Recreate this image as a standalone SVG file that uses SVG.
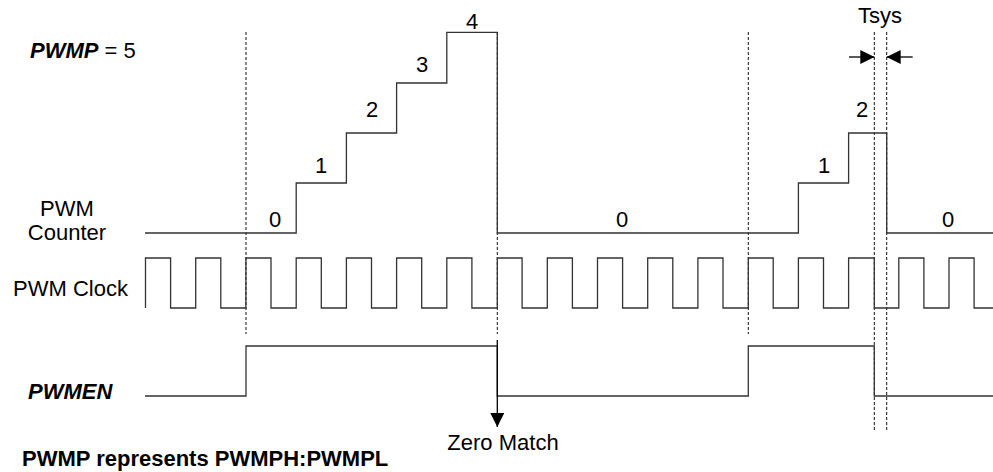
<svg xmlns="http://www.w3.org/2000/svg" width="993" height="472" viewBox="0 0 993 472">
<style>
text{font-family:"Liberation Sans",Arial,sans-serif;font-size:22px;fill:#000}
.bi{font-weight:bold;font-style:italic}
.b{font-weight:bold}
.num{text-anchor:middle}
.wave{fill:none;stroke:#333;stroke-width:1.3}
.dash{fill:none;stroke:#111;stroke-width:1;stroke-dasharray:3,2}
.arr{fill:none;stroke:#000;stroke-width:1.3}
</style>
<defs>
<marker id="ah" viewBox="0 0 14 14" refX="14" refY="7" markerWidth="14" markerHeight="14" markerUnits="userSpaceOnUse" orient="auto">
<path d="M0,0 L14,7 L0,14 Z" fill="#000"/>
</marker>
</defs>
<rect width="993" height="472" fill="#fff"/>
<g id="guides">
<line class="dash" x1="246" y1="32" x2="246" y2="334"/>
<line class="dash" x1="497.3" y1="32" x2="497.3" y2="334"/>
<line class="dash" x1="748.3" y1="32" x2="748.3" y2="334"/>
<line class="dash" x1="874.3" y1="32" x2="874.3" y2="432"/>
<line class="dash" x1="886.7" y1="32" x2="886.7" y2="432"/>
</g>
<g id="pwmp-label">
<text x="30" y="58"><tspan class="bi">PWMP</tspan> = 5</text>
</g>
<g id="counter">
<text x="67" y="216" text-anchor="middle">PWM</text>
<text x="67" y="240" text-anchor="middle">Counter</text>
<path class="wave" d="M145,233 H296.2 V183 H346.4 V133 H396.6 V83 H446.8 V32.3 H497.3 V233 H798.4 V183 H848.6 V133 H886.7 V233 H993"/>
<text class="num" x="275" y="227">0</text>
<text class="num" x="321" y="173">1</text>
<text class="num" x="372" y="117">2</text>
<text class="num" x="422" y="72">3</text>
<text class="num" x="472" y="29">4</text>
<text class="num" x="622" y="227">0</text>
<text class="num" x="824" y="173">1</text>
<text class="num" x="862" y="117">2</text>
<text class="num" x="948" y="227">0</text>
</g>
<g id="clock">
<text x="13" y="296">PWM Clock</text>
<path class="wave" d="M145.5,308 V258 H170.6 V308 H195.7 V258 H220.8 V308 H245.9 V258 H271 V308 H296.2 V258 H321.3 V308 H346.4 V258 H371.5 V308 H396.6 V258 H421.7 V308 H446.8 V258 H471.9 V308 H497.3 V258 H522.1 V308 H547.3 V258 H572.4 V308 H597.5 V258 H622.6 V308 H647.7 V258 H672.8 V308 H697.9 V258 H723 V308 H748.3 V258 H773.2 V308 H798.4 V258 H823.5 V308 H848.6 V258 H874.3 V308 H898.8 V258 H923.9 V308 H949 V258 H974.1 V308 H993"/>
</g>
<g id="pwmen">
<text class="bi" x="28" y="399">PWMEN</text>
<path class="wave" d="M145,396 H246 V346 H497.3 V396 H748.3 V346 H874.3 V396 H993"/>
</g>
<g id="connectors">
<line class="arr" x1="497.3" y1="340" x2="497.3" y2="427" marker-end="url(#ah)"/>
<line class="arr" x1="849" y1="57" x2="874.3" y2="57" marker-end="url(#ah)"/>
<line class="arr" x1="912.7" y1="57" x2="886.7" y2="57" marker-end="url(#ah)"/>
</g>
<g id="annotations">
<text x="503" y="450" text-anchor="middle">Zero Match</text>
<text x="880" y="23" text-anchor="middle">Tsys</text>
<text class="b" x="22" y="466">PWMP represents PWMPH:PWMPL</text>
</g>
</svg>
